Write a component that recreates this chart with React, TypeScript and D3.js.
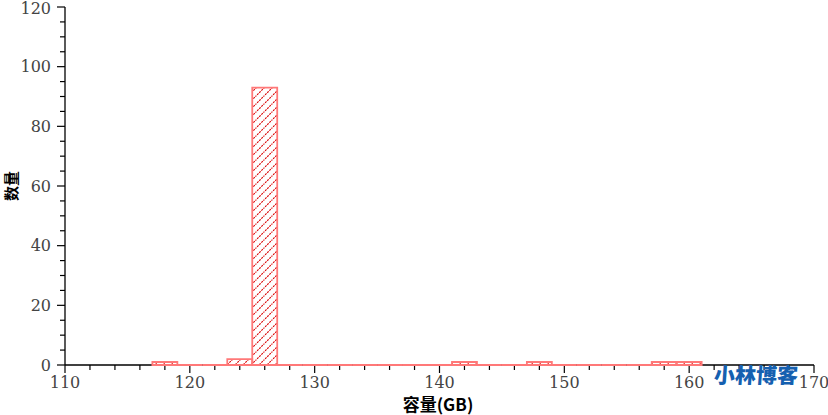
import React from "react";
import * as d3 from "d3";

const binStarts = [117,119,121,123,125,127,129,131,133,135,137,139,141,143,145,147,149,151,153,155,157,159];
const counts =    [1,  0,  0,  2,  93, 0,  0,  0,  0,  0,  0,  0,  1,  0,  0,  1,  0,  0,  0,  0,  1,  1];
const binWidth = 2;
const xTicks = [110,120,130,140,150,160,170];
const yTicks = [0,20,40,60,80,100,120];
const xLabel = "容量(GB)";
const yLabel = "数量";
const watermark = "小林博客";

export default function App() {
  const W = 828, H = 415;
  const x = d3.scaleLinear().domain([110, 170]).range([65, 814]);
  const y = d3.scaleLinear().domain([0, 120]).range([365, 7]);
  const xMinor = d3.range(110, 170.001, 2);
  const yMinor = d3.range(0, 120.001, 5);
  const font = "'DejaVu Serif', 'Liberation Serif', serif";
  return (
    <svg width={W} height={H} style={{ position: "absolute", left: 0, top: 0, background: "#fff" }}>
      <defs>
        <pattern id="hatch" patternUnits="userSpaceOnUse" width={8} height={8}>
          <path d="M-1,9 L9,-1 M-3,3 L3,-3 M5,11 L11,5" stroke="#d80000" strokeWidth={1.1} strokeDasharray="2,1" />
        </pattern>
      </defs>
      {/* y axis */}
      <line x1={x(110)} x2={x(110)} y1={y(0)} y2={y(120)} stroke="#000" strokeWidth={1.3} />
      {yMinor.map(v => (
        <line key={"ym" + v} x1={x(110)} x2={x(110) - (v % 20 === 0 ? 8 : 5)} y1={y(v)} y2={y(v)} stroke="#000" strokeWidth={1.2} />
      ))}
      {yTicks.map(v => (
        <text key={"yl" + v} x={51} y={v === 120 ? y(v) + 1 : y(v)} dy="0.35em" textAnchor="end" fontFamily={font} fontSize={16} fill="#444">{v}</text>
      ))}
      {/* x axis */}
      <line x1={x(110)} x2={x(170)} y1={y(0)} y2={y(0)} stroke="#000" strokeWidth={1.3} />
      {xMinor.map(v => (
        <line key={"xm" + v} x1={x(v)} x2={x(v)} y1={y(0)} y2={y(0) + (Math.abs(v % 10) < 1e-9 ? 8 : 5)} stroke="#000" strokeWidth={1.2} />
      ))}
      {xTicks.map(v => (
        <text key={"xl" + v} x={x(v)} y={382} dy="0.35em" textAnchor="middle" fontFamily={font} fontSize={16} fill="#444">{v}</text>
      ))}
      {/* bars */}
      {binStarts.map((s, i) => {
        const x0 = x(s), x1 = x(s + binWidth);
        const y0 = y(counts[i]);
        const yb = y(0);
        const h = Math.max(yb - y0, 0);
        return (
          <g key={i}>
            {h > 0 && <rect x={x0} y={y0} width={x1 - x0} height={h} fill="url(#hatch)" />}
            <path d={`M${x0},${yb}V${y0}H${x1}V${yb}Z`} fill="none" stroke="#ff7878" strokeWidth={1.8} />
          </g>
        );
      })}
      <text x={438} y={405} dy="0.35em" textAnchor="middle" fontFamily="'Noto Sans CJK SC', sans-serif" fontWeight="bold" fontSize={17} fill="#000">{xLabel}</text>
      <text transform={`translate(12,186) rotate(-90)`} dy="0.35em" textAnchor="middle" fontFamily="'Noto Sans CJK SC', sans-serif" fontWeight="bold" fontSize={15} fill="#000">{yLabel}</text>
      <text x={756} y={376} dy="0.35em" textAnchor="middle" fontFamily="'Noto Sans CJK SC', sans-serif" fontWeight="900" fontSize={21} fill="#1560b0" transform="skewX(-4)" style={{ transformOrigin: "756px 376px" }}>{watermark}</text>
    </svg>
  );
}
